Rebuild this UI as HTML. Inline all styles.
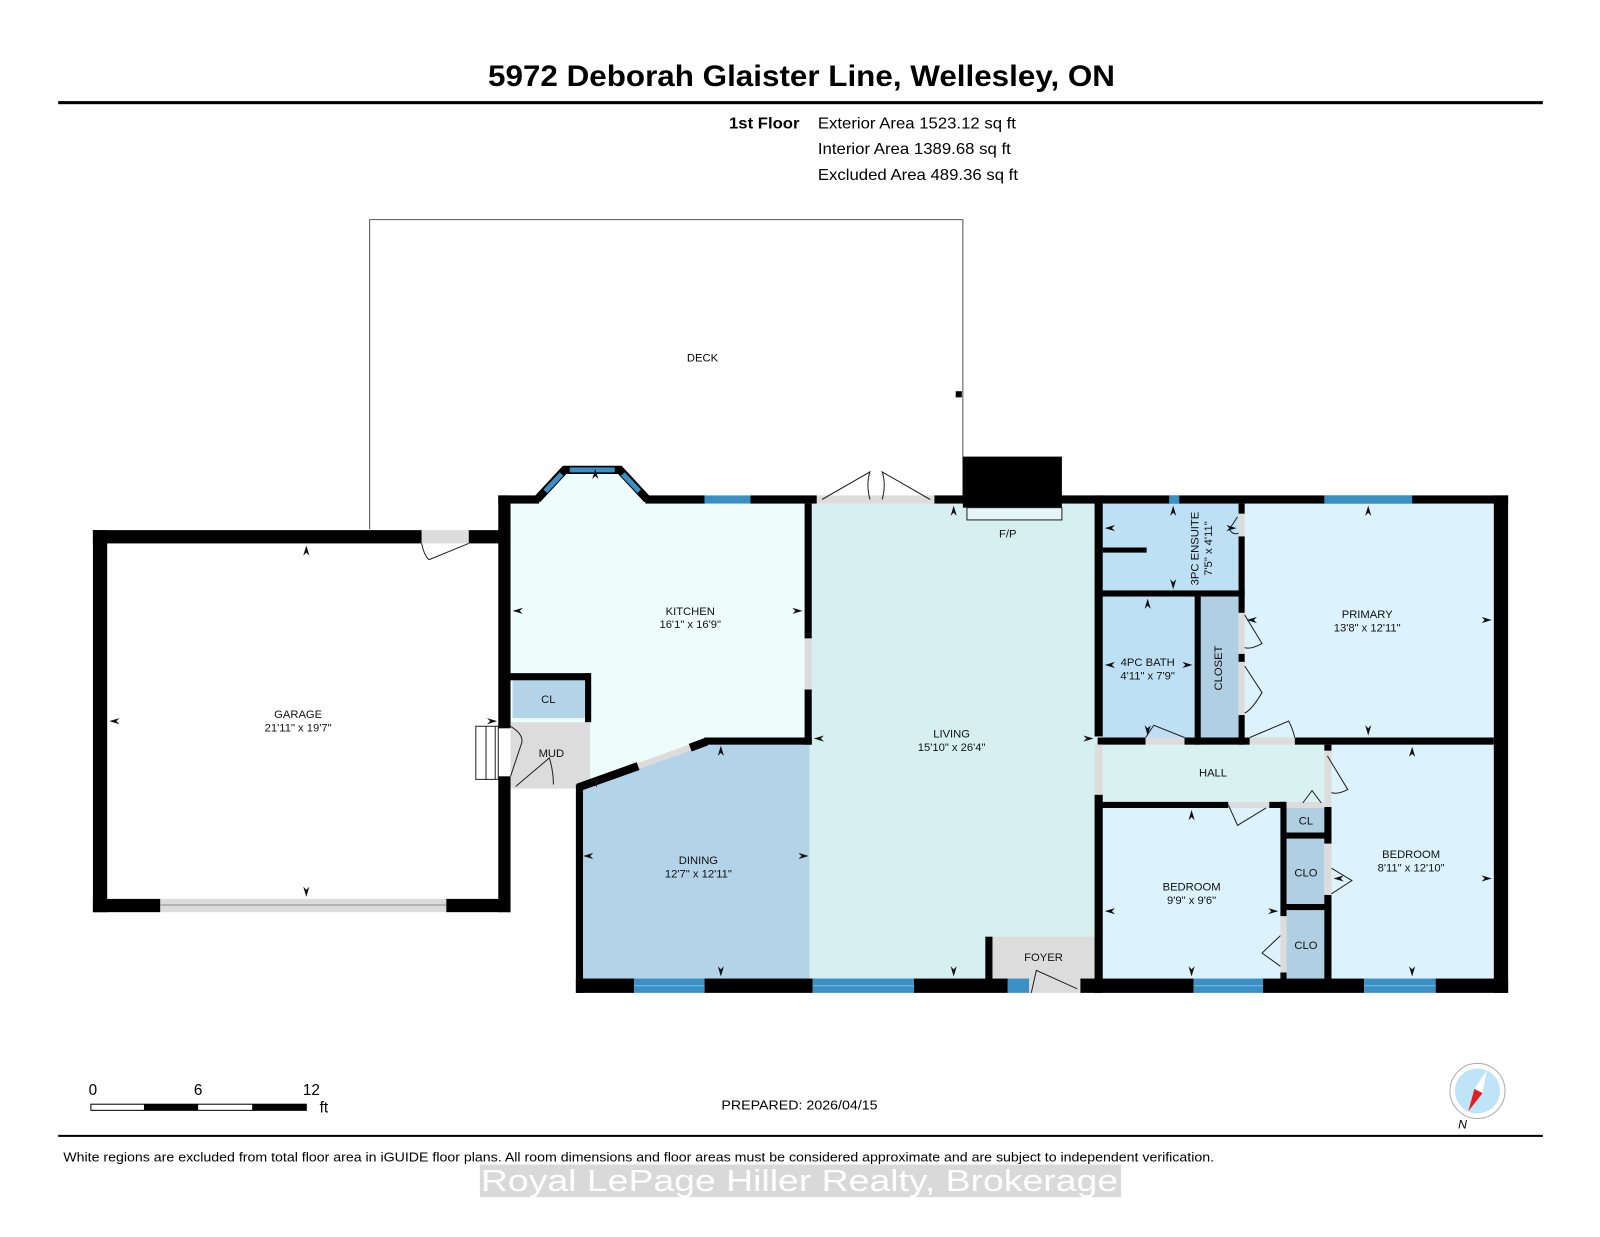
<!DOCTYPE html>
<html><head><meta charset="utf-8"><style>
html,body{margin:0;padding:0;background:#fff;}
svg{display:block;}
text{font-family:"Liberation Sans",sans-serif;}
</style></head><body>
<svg width="1600" height="1237" viewBox="0 0 1567 1211" preserveAspectRatio="none" xmlns="http://www.w3.org/2000/svg">
<rect width="1567" height="1211" fill="#fff"/>
<text x="785" y="84" font-size="29" font-weight="bold" text-anchor="middle" textLength="614" lengthAdjust="spacingAndGlyphs">5972 Deborah Glaister Line, Wellesley, ON</text>
<rect x="57" y="99" width="1454" height="3" fill="#000"/>
<text x="714" y="126" font-size="15" font-weight="bold" textLength="69" lengthAdjust="spacingAndGlyphs">1st Floor</text>
<text x="801" y="126" font-size="15" textLength="194" lengthAdjust="spacingAndGlyphs">Exterior Area 1523.12 sq ft</text>
<text x="801" y="151" font-size="15" textLength="189" lengthAdjust="spacingAndGlyphs">Interior Area 1389.68 sq ft</text>
<text x="801" y="176" font-size="15" textLength="196" lengthAdjust="spacingAndGlyphs">Excluded Area 489.36 sq ft</text>

<polyline points="362,518 362,215 943,215 943,490" fill="none" stroke="#555" stroke-width="1"/>
<rect x="936" y="383" width="6" height="6" fill="#000"/>
<text x="688" y="354" font-size="11" text-anchor="middle">DECK</text>

<rect x="105" y="532" width="383" height="348" fill="#fff"/>
<polygon points="500,493 528,493 555,463 605,463 632,493 790,493 790,725 690,725 566,772 578,772 578,707 500,707" fill="#eefcfb"/>
<rect x="500" y="707" width="78" height="65" fill="#dcdcdc"/>
<rect x="502" y="666" width="71" height="37" fill="#b4d4ea"/>
<polygon points="566,772 690,728 793,728 793,960 566,960" fill="#b3d3e8"/>
<rect x="793" y="493" width="282" height="467" fill="#d6f0f1"/>
<rect x="970" y="917" width="102" height="43" fill="#dcdcdc"/>
<rect x="1080" y="493" width="133" height="85" fill="#bde0f5"/>
<rect x="1080" y="584" width="90" height="138" fill="#bde0f5"/>
<rect x="1176" y="584" width="37" height="138" fill="#b0cfe2"/>
<rect x="1219" y="493" width="244" height="229" fill="#dcf2fc"/>
<rect x="1080" y="729" width="217" height="56" fill="#d8f1f1"/>
<rect x="1304" y="729" width="159" height="229" fill="#dcf2fc"/>
<rect x="1080" y="791" width="174" height="167" fill="#dcf2fc"/>
<rect x="1260" y="791" width="37" height="24" fill="#b0cfe2"/>
<rect x="1260" y="821" width="37" height="64" fill="#b0cfe2"/>
<rect x="1260" y="891" width="37" height="67" fill="#b0cfe2"/>

<g fill="#000">
<rect x="91" y="519" width="322" height="13"/>
<rect x="459" y="519" width="41" height="13"/>
<rect x="91" y="519" width="14" height="374"/>
<rect x="91" y="880" width="66" height="13"/>
<rect x="437" y="880" width="63" height="13"/>
<rect x="488" y="485" width="12" height="228"/>
<rect x="488" y="760" width="12" height="133"/>
<rect x="488" y="485" width="40" height="8"/>
<rect x="632" y="485" width="58" height="8"/>
<rect x="735" y="485" width="65" height="8"/>
<rect x="915" y="485" width="562" height="8"/>
<rect x="943" y="447" width="97" height="50"/>
<rect x="788" y="493" width="7" height="132"/>
<rect x="788" y="675" width="7" height="54"/>
<rect x="690" y="722" width="105" height="7"/>
<rect x="500" y="659" width="78" height="7"/>
<rect x="573" y="659" width="6" height="48"/>
<rect x="564" y="768" width="7" height="204"/>
<rect x="564" y="958" width="57" height="14"/>
<rect x="690" y="958" width="106" height="14"/>
<rect x="895" y="958" width="92" height="14"/>
<rect x="1058" y="958" width="111" height="14"/>
<rect x="1237" y="958" width="99" height="14"/>
<rect x="1406" y="958" width="71" height="14"/>
<rect x="965" y="917" width="7" height="43"/>
<rect x="1072" y="485" width="8" height="236"/>
<rect x="1072" y="778" width="8" height="194"/>
<rect x="1463" y="485" width="14" height="487"/>
<rect x="1075" y="578" width="144" height="6"/>
<rect x="1080" y="536" width="43" height="5"/>
<rect x="1213" y="493" width="6" height="10"/>
<rect x="1213" y="525" width="6" height="75"/>
<rect x="1213" y="640" width="6" height="8"/>
<rect x="1213" y="700" width="6" height="29"/>
<rect x="1170" y="584" width="6" height="145"/>
<rect x="1075" y="722" width="47" height="7"/>
<rect x="1160" y="722" width="64" height="7"/>
<rect x="1268" y="722" width="195" height="7"/>
<rect x="1297" y="729" width="7" height="6"/>
<rect x="1297" y="790" width="7" height="36"/>
<rect x="1297" y="876" width="7" height="82"/>
<rect x="1075" y="785" width="128" height="6"/>
<rect x="1243" y="785" width="17" height="6"/>
<rect x="1254" y="785" width="6" height="112"/>
<rect x="1254" y="952" width="6" height="8"/>
<rect x="1260" y="815" width="44" height="6"/>
<rect x="1260" y="885" width="44" height="6"/>
</g>
<!-- bay window -->
<polyline points="526,489 553,460 607,460 634,489" fill="none" stroke="#000" stroke-width="8" stroke-linejoin="miter"/>
<line x1="534" y1="481" x2="550" y2="464" stroke="#3a8fc5" stroke-width="5"/>
<line x1="558" y1="460" x2="602" y2="460" stroke="#3a8fc5" stroke-width="5"/>
<line x1="610" y1="464" x2="626" y2="481" stroke="#3a8fc5" stroke-width="5"/>

<!-- dining diagonal wall -->
<line x1="566" y1="771" x2="625" y2="750" stroke="#000" stroke-width="8"/>
<line x1="625" y1="750" x2="678" y2="731" stroke="#dcdcdc" stroke-width="6"/>
<line x1="676" y1="732" x2="692" y2="726" stroke="#000" stroke-width="8"/>

<g fill="#3a8fc5">
<rect x="690" y="485" width="45" height="8"/>
<rect x="1145" y="485" width="10" height="8"/>
<rect x="1297" y="485" width="86" height="8"/>
<rect x="621" y="958" width="69" height="14"/>
<rect x="796" y="958" width="99" height="14"/>
<rect x="987" y="958" width="21" height="14"/>
<rect x="1169" y="958" width="68" height="14"/>
<rect x="1336" y="958" width="70" height="14"/>
</g>
<g stroke="#7ec0e8" stroke-width="1">
<line x1="621" y1="965" x2="690" y2="965"/><line x1="796" y1="965" x2="895" y2="965"/>
<line x1="1169" y1="965" x2="1237" y2="965"/><line x1="1336" y1="965" x2="1406" y2="965"/>
</g>

<g fill="#dcdcdc">
<rect x="413" y="519" width="46" height="13"/>
<rect x="157" y="880" width="280" height="13"/>
<rect x="800" y="485" width="115" height="8"/>
<rect x="788" y="625" width="7" height="50"/>
<rect x="1008" y="958" width="50" height="14"/>
<rect x="1072" y="729" width="8" height="49"/>
<rect x="1122" y="722" width="38" height="7"/>
<rect x="1224" y="722" width="44" height="7"/>
<rect x="1213" y="503" width="6" height="22"/>
<rect x="1213" y="600" width="6" height="40"/>
<rect x="1213" y="648" width="6" height="52"/>
<rect x="1297" y="735" width="7" height="55"/>
<rect x="1203" y="785" width="40" height="6"/>
<rect x="1260" y="785" width="37" height="6"/>
<rect x="1297" y="826" width="7" height="50"/>
<rect x="1254" y="897" width="6" height="55"/>
</g>
<line x1="157" y1="886" x2="437" y2="886" stroke="#888" stroke-width="1"/>
<g fill="none" stroke="#222" stroke-width="1">
<path d="M459,532 L420,548 M413,532 Q415,543 420,548"/>
<path d="M805,489 L852,462 Q848,474 852,489 M911,489 L864,462 Q868,474 864,489"/>
<path d="M1010,972 L1015,950 L1055,968"/>
<path d="M1212,506 L1204,518 Q1207,524 1213,522"/>
<path d="M1219,602 L1236,630 Q1225,636 1219,634 M1219,652 L1236,678 Q1226,695 1219,698"/>
<path d="M1122,722 L1130,710 L1160,722"/>
<path d="M1224,722 L1262,706 Q1266,713 1268,722"/>
<path d="M1300,740 L1320,773 Q1310,778 1304,776"/>
<path d="M1203,788 L1212,808 L1240,791"/>
<path d="M1276,786 L1285,774 L1294,786"/>
<path d="M1304,850 L1324,862 L1304,875"/>
<path d="M1254,916 L1236,933 L1254,946"/>
<path d="M500,711 Q515,720 510,730 L500,760 M505,770 L538,742 Q542,755 542,768"/>
</g>
<g fill="#fff" stroke="#222" stroke-width="1">
<rect x="466" y="711" width="22" height="52"/>
<line x1="476" y1="711" x2="476" y2="763"/><line x1="485" y1="711" x2="485" y2="763"/>
</g>
<rect x="947" y="497" width="93" height="12" fill="#e6f6f8" stroke="#222" stroke-width="1"/>

<g fill="#111">
<path d="M300,534 l-3,10 3,-3 3,3z"/><path d="M300,878 l-3,-10 3,3 3,-3z"/>
<path d="M107,706 l10,-3 -3,3 3,3z"/><path d="M487,706 l-10,-3 3,3 -3,3z"/>
<path d="M502,598 l10,-3 -3,3 3,3z"/><path d="M786,598 l-10,-3 3,3 -3,3z"/>
<path d="M583,459 l-3,10 3,-3 3,3z"/><path d="M584,771 l-3,-10 3,3 3,-3z"/>
<path d="M706,730 l-3,10 3,-3 3,3z"/><path d="M706,956 l-3,-10 3,3 3,-3z"/>
<path d="M571,838 l10,-3 -3,3 3,3z"/><path d="M792,838 l-10,-3 3,3 -3,3z"/>
<path d="M797,723 l10,-3 -3,3 3,3z"/><path d="M1071,723 l-10,-3 3,3 -3,3z"/>
<path d="M934,495 l-3,10 3,-3 3,3z"/><path d="M934,956 l-3,-10 3,3 3,-3z"/>
<path d="M1082,517 l10,-3 -3,3 3,3z"/><path d="M1211,517 l-10,-3 3,3 -3,3z"/>
<path d="M1149,495 l-3,10 3,-3 3,3z"/><path d="M1149,577 l-3,-10 3,3 3,-3z"/>
<path d="M1124,586 l-3,10 3,-3 3,3z"/><path d="M1124,720 l-3,-10 3,3 3,-3z"/>
<path d="M1082,651 l10,-3 -3,3 3,3z"/><path d="M1168,651 l-10,-3 3,3 -3,3z"/>
<path d="M1340,495 l-3,10 3,-3 3,3z"/><path d="M1340,720 l-3,-10 3,3 3,-3z"/>
<path d="M1221,607 l10,-3 -3,3 3,3z"/><path d="M1461,607 l-10,-3 3,3 -3,3z"/>
<path d="M1383,731 l-3,10 3,-3 3,3z"/><path d="M1383,956 l-3,-10 3,3 3,-3z"/>
<path d="M1306,860 l10,-3 -3,3 3,3z"/><path d="M1461,860 l-10,-3 3,3 -3,3z"/>
<path d="M1167,793 l-3,10 3,-3 3,3z"/><path d="M1167,956 l-3,-10 3,3 3,-3z"/>
<path d="M1082,892 l10,-3 -3,3 3,3z"/><path d="M1252,892 l-10,-3 3,3 -3,3z"/>
</g>

<g font-size="11" text-anchor="middle" fill="#111">
<text x="292" y="703">GARAGE</text><text x="292" y="716">21'11" x 19'7"</text>
<text x="676" y="602">KITCHEN</text><text x="676" y="615">16'1" x 16'9"</text>
<text x="537" y="688">CL</text>
<text x="540" y="741">MUD</text>
<text x="684" y="846">DINING</text><text x="684" y="859">12'7" x 12'11"</text>
<text x="932" y="722">LIVING</text><text x="932" y="735">15'10" x 26'4"</text>
<text x="987" y="526">F/P</text>
<text x="1022" y="941">FOYER</text>
<text x="1339" y="605">PRIMARY</text><text x="1339" y="618">13'8" x 12'11"</text>
<text x="1124" y="652">4PC BATH</text><text x="1124" y="665">4'11" x 7'9"</text>
<text x="1188" y="760">HALL</text>
<text x="1279" y="807">CL</text>
<text x="1279" y="858">CLO</text>
<text x="1279" y="929">CLO</text>
<text x="1382" y="840">BEDROOM</text><text x="1382" y="853">8'11" x 12'10"</text>
<text x="1167" y="872">BEDROOM</text><text x="1167" y="885">9'9" x 9'6"</text>
<text transform="translate(1197,654) rotate(-90)">CLOSET</text>
<text transform="translate(1174,537) rotate(-90)">3PC ENSUITE</text>
<text transform="translate(1187,537) rotate(-90)">7'5" x 4'11"</text>
</g>

<text x="91" y="1072" font-size="15" text-anchor="middle">0</text>
<text x="194" y="1072" font-size="15" text-anchor="middle">6</text>
<text x="305" y="1072" font-size="15" text-anchor="middle">12</text>
<text x="313" y="1089" font-size="15">ft</text>
<rect x="89" y="1081" width="211" height="6" fill="#fff" stroke="#000" stroke-width="1"/>
<rect x="141" y="1081" width="53" height="6" fill="#000"/>
<rect x="247" y="1081" width="53" height="6" fill="#000"/>
<text x="783" y="1086" font-size="13" text-anchor="middle" textLength="153" lengthAdjust="spacingAndGlyphs">PREPARED: 2026/04/15</text>
<circle cx="1447" cy="1068" r="27" fill="#fff" stroke="#aaa" stroke-width="1"/>
<circle cx="1447" cy="1068" r="22" fill="#bfe3f7"/>
<polygon points="1438,1088 1444,1066 1452,1070" fill="#e02020"/>
<polygon points="1456,1048 1444,1066 1452,1070" fill="#fff"/>
<text x="1428" y="1105" font-size="12" font-style="italic">N</text>
<rect x="57" y="1111" width="1454" height="2" fill="#000"/>
<text x="62" y="1137" font-size="13" textLength="1127" lengthAdjust="spacingAndGlyphs">White regions are excluded from total floor area in iGUIDE floor plans. All room dimensions and floor areas must be considered approximate and are subject to independent verification.</text>
<rect x="470" y="1140" width="628" height="32" fill="#d9d9d9"/>
<text x="783" y="1166" font-size="30" text-anchor="middle" fill="#fff" textLength="624" lengthAdjust="spacingAndGlyphs">Royal LePage Hiller Realty, Brokerage</text>
</svg>
</body></html>
